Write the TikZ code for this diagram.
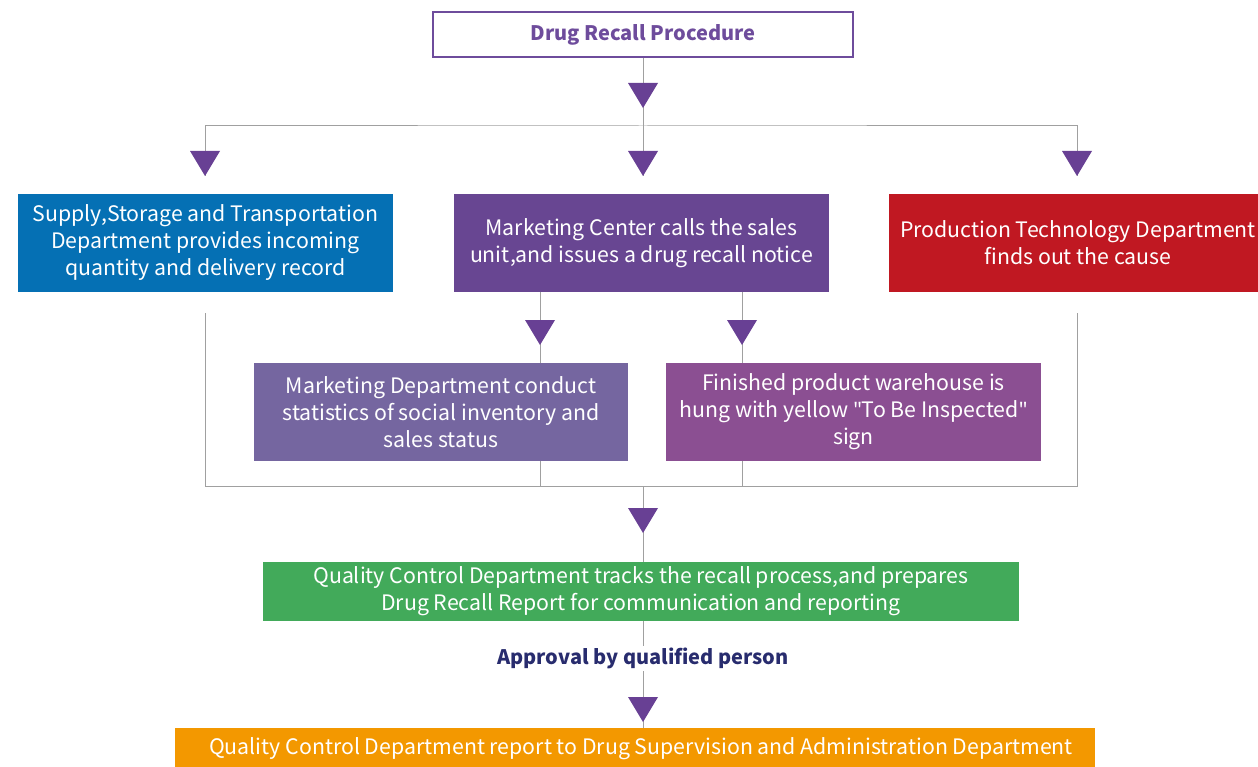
\documentclass[tikz,border=0pt]{standalone}
\usepackage{fontspec}
\setmainfont{Noto Sans CJK SC}
\newfontfamily\qfont{Noto Sans}
\usetikzlibrary{calc}
\definecolor{tricol}{RGB}{104,64,148}
\definecolor{titcol}{RGB}{110,76,156}
\definecolor{blueb}{RGB}{5,112,180}
\definecolor{purpb}{RGB}{104,70,146}
\definecolor{redb}{RGB}{192,24,34}
\definecolor{mktb}{RGB}{117,102,160}
\definecolor{finb}{RGB}{139,79,146}
\definecolor{greenb}{RGB}{66,170,90}
\definecolor{orangeb}{RGB}{243,152,0}
\definecolor{navy}{RGB}{40,44,110}
\definecolor{linecol}{RGB}{160,160,160}
\newcommand\tritip[1]{\fill[tricol] ($(#1)+(-15,-25)$) -- ($(#1)+(15,-25)$) -- (#1) -- cycle;}
\newcommand\dq{{\qfont\symbol{"22}}}
\begin{document}
\begin{tikzpicture}[x=1pt,y=-1pt,
  box/.style={rectangle, inner sep=0pt, text=white, align=center, font=\fontsize{21.3}{27}\selectfont},
  conn/.style={draw=linecol, line width=1pt}]
\useasboundingbox (0,0) rectangle (1258,767);
% nodes
\node[rectangle, draw=titcol, line width=2pt, minimum width=420pt, minimum height=45pt, text=titcol, font=\fontsize{20}{24}\bfseries\selectfont] (title) at (643,34.5) {Drug Recall Procedure};
\node[box, fill=blueb, minimum width=375pt, minimum height=98pt] (supply) at (205.5,243) {Supply,Storage and Transportation\\Department provides incoming\\quantity and delivery record};
\node[box, fill=purpb, minimum width=375pt, minimum height=98pt] (mc) at (641.5,243) {Marketing Center calls the sales\\unit,and issues a drug recall notice};
\node[box, fill=redb, minimum width=378pt, minimum height=98pt] (prod) at (1078,243) {Production Technology Department\\finds out the cause};
\node[box, fill=mktb, minimum width=374pt, minimum height=98pt] (mkt) at (441,412) {Marketing Department conduct\\statistics of social inventory and\\sales status};
\node[box, fill=finb, minimum width=375pt, minimum height=98pt] (fin) at (853.5,412) {Finished product warehouse is\\hung with yellow \dq To Be Inspected\dq\\sign};
\node[box, fill=greenb, minimum width=756pt, minimum height=59pt] (qc) at (641,591.5) {Quality Control Department tracks the recall process,and prepares\\Drug Recall Report for communication and reporting};
\node[box, fill=orangeb, minimum width=920pt, minimum height=42pt] (rep) at (635,749) {\hspace*{12pt}Quality Control Department report to Drug Supervision and Administration Department};
% coordinates
\coordinate (j1) at (643,126);
\coordinate (j2) at (643,486);
\coordinate (tS) at (205,176);
\coordinate (tM) at (643,176);
\coordinate (tP) at (1077,176);
\coordinate (sB) at (205,313);
\coordinate (pB) at (1077,313);
\coordinate (sJ) at (205,486);
\coordinate (pJ) at (1077,486);
\coordinate (m1) at (540,292);
\coordinate (m2) at (742,292);
% connectors
\draw[conn] (title.south) -- (j1);
\draw[conn] (tS) |- (j1) -| (tP);
\draw[conn] (j1) -- (tM);
\draw[conn] (sB) -- (sJ) -- (pJ) -- (pB);
\draw[conn] (m1) -- (mkt.north -| m1);
\draw[conn] (m2) -- (fin.north -| m2);
\draw[conn] (mkt.south -| m1) -- (sJ -| m1);
\draw[conn] (fin.south -| m2) -- (sJ -| m2);
\draw[conn] (j2) -- (qc.north -| j2);
\draw[conn] (qc.south -| j2) -- (rep.north -| j2);
\node[fill=white, inner sep=2pt, text=navy, font=\fontsize{20}{24}\bfseries\selectfont] (appr) at (643,658) {Approval by qualified person};
% triangles
\coordinate (a0) at (643,108);
\coordinate (a1) at (540,345);
\coordinate (a2) at (742,345);
\coordinate (a3) at (643,533);
\coordinate (a4) at (643,722);
\tritip{a0}\tritip{tS}\tritip{tM}\tritip{tP}\tritip{a1}\tritip{a2}\tritip{a3}\tritip{a4}
\end{tikzpicture}
\end{document}
